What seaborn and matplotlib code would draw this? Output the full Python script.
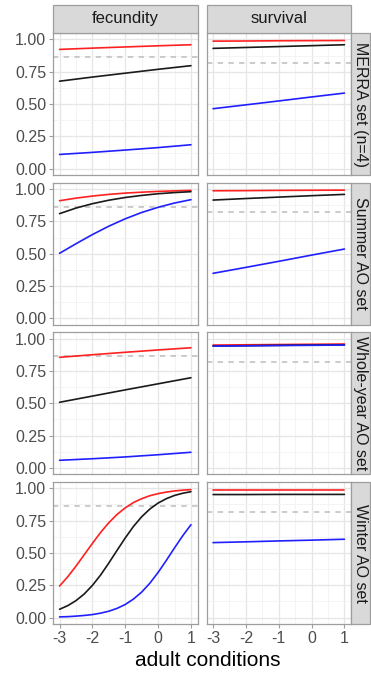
import numpy as np
import pandas as pd
import seaborn as sns
import matplotlib
matplotlib.use("Agg")
import matplotlib.pyplot as plt
from matplotlib.patches import Rectangle
from matplotlib.ticker import MultipleLocator

# ---- data -------------------------------------------------------------
row_sets = ["MERRA set (n=4)", "Summer AO set", "Whole-year AO set", "Winter AO set"]
vital_rates = ["fecundity", "survival"]
scenarios = ["good", "average", "poor"]
scenario_colors = {"good": "#FF2020", "average": "#1A1A1A", "poor": "#2020FF"}

x5 = [-3, -2, -1, 0, 1]
x9 = [-3, -2.5, -2, -1.5, -1, -0.5, 0, 0.5, 1]
x17 = [-3, -2.75, -2.5, -2.25, -2, -1.75, -1.5, -1.25, -1,
       -0.75, -0.5, -0.25, 0, 0.25, 0.5, 0.75, 1]

# MERRA set
merra_fec_good = [0.923, 0.933, 0.942, 0.951, 0.959]
merra_fec_avg = [0.677, 0.709, 0.739, 0.769, 0.797]
merra_fec_poor = [0.110, 0.126, 0.144, 0.163, 0.185]
merra_surv_good = [0.987, 0.988, 0.990, 0.991, 0.992]
merra_surv_avg = [0.931, 0.938, 0.945, 0.952, 0.959]
merra_surv_poor = [0.464, 0.494, 0.524, 0.555, 0.585]

# Summer AO set
summer_fec_good = [0.910, 0.930, 0.946, 0.959, 0.969, 0.976, 0.982, 0.986, 0.990]
summer_fec_avg = [0.810, 0.853, 0.887, 0.914, 0.935, 0.951, 0.964, 0.973, 0.980]
summer_fec_poor = [0.503, 0.577, 0.648, 0.713, 0.770, 0.819, 0.859, 0.892, 0.918]
summer_surv_good = [0.987, 0.988, 0.990, 0.991, 0.992]
summer_surv_avg = [0.915, 0.927, 0.938, 0.949, 0.959]
summer_surv_poor = [0.348, 0.394, 0.441, 0.489, 0.536]

# Whole-year AO set
whole_fec_good = [0.856, 0.876, 0.895, 0.913, 0.930]
whole_fec_avg = [0.508, 0.556, 0.604, 0.651, 0.698]
whole_fec_poor = [0.059, 0.071, 0.085, 0.102, 0.121]
whole_surv_good = [0.951, 0.953, 0.955, 0.957, 0.959]
whole_surv_avg = [0.944, 0.946, 0.949, 0.951, 0.953]
whole_surv_poor = [0.943, 0.945, 0.947, 0.949, 0.951]

# Winter AO set
winter_fec_good = [0.244, 0.316, 0.398, 0.486, 0.574, 0.659, 0.734, 0.798, 0.849,
                   0.890, 0.920, 0.943, 0.959, 0.971, 0.980, 0.986, 0.990]
winter_fec_avg = [0.064, 0.092, 0.131, 0.182, 0.249, 0.329, 0.422, 0.520, 0.616,
                  0.705, 0.780, 0.840, 0.886, 0.920, 0.945, 0.962, 0.974]
winter_fec_poor = [0.005, 0.007, 0.011, 0.016, 0.023, 0.034, 0.049, 0.071, 0.101,
                   0.143, 0.197, 0.266, 0.349, 0.442, 0.539, 0.633, 0.718]
winter_surv_good = [0.990, 0.990, 0.990, 0.990, 0.990]
winter_surv_avg = [0.952, 0.952, 0.953, 0.953, 0.953]
winter_surv_poor = [0.580, 0.586, 0.593, 0.599, 0.606]

# reference thresholds (dashed lines)
threshold = {"fecundity": 0.865, "survival": 0.82}

x_ticks = [-3, -2, -1, 0, 1]
y_ticks = [0.0, 0.25, 0.5, 0.75, 1.0]
y_tick_labels = ["0.00", "0.25", "0.50", "0.75", "1.00"]

series = [
    (row_sets[0], "fecundity", x5, [merra_fec_good, merra_fec_avg, merra_fec_poor]),
    (row_sets[0], "survival", x5, [merra_surv_good, merra_surv_avg, merra_surv_poor]),
    (row_sets[1], "fecundity", x9, [summer_fec_good, summer_fec_avg, summer_fec_poor]),
    (row_sets[1], "survival", x5, [summer_surv_good, summer_surv_avg, summer_surv_poor]),
    (row_sets[2], "fecundity", x5, [whole_fec_good, whole_fec_avg, whole_fec_poor]),
    (row_sets[2], "survival", x5, [whole_surv_good, whole_surv_avg, whole_surv_poor]),
    (row_sets[3], "fecundity", x17, [winter_fec_good, winter_fec_avg, winter_fec_poor]),
    (row_sets[3], "survival", x5, [winter_surv_good, winter_surv_avg, winter_surv_poor]),
]

records = []
for rset, vital, xs, ys_list in series:
    for scen, ys in zip(scenarios, ys_list):
        for xv, yv in zip(xs, ys):
            records.append({"set": rset, "vital": vital, "scenario": scen,
                            "conditions": xv, "value": yv})
df = pd.DataFrame(records)

# ---- style ------------------------------------------------------------
sns.set_theme(style="white")
plt.rcParams["font.family"] = ["Liberation Sans", "DejaVu Sans"]
plt.rcParams["axes.unicode_minus"] = False

border = "#9E9E9E"
tick_col = "#4D4D4D"

g = sns.FacetGrid(df, row="set", col="vital", row_order=row_sets,
                  col_order=vital_rates, sharex=True, sharey=True,
                  height=1.5, aspect=1.0, despine=False)


def draw_panel(data, **kws):
    ax = plt.gca()
    vital = data["vital"].iloc[0]
    ax.axhline(threshold[vital], color="#BDBDBD", lw=1.1, ls=(0, (3.5, 3.5)),
               zorder=1)
    sns.lineplot(data=data, x="conditions", y="value", hue="scenario",
                 hue_order=scenarios, palette=scenario_colors, estimator=None,
                 sort=False, legend=False, lw=1.2, ax=ax, zorder=3)


g.map_dataframe(draw_panel)
g.set_titles("")
g.set_axis_labels("", "")

fig = g.figure
fig.set_size_inches(3.71, 6.75)
fig.subplots_adjust(left=53 / 371, right=351 / 371, top=1 - 33 / 675,
                    bottom=1 - 624 / 675, wspace=9 / 144.5, hspace=7.5 / 142)

for i, rset in enumerate(row_sets):
    for j, vital in enumerate(vital_rates):
        ax = g.axes[i, j]
        ax.set_xlim(-3.2, 1.2)
        ax.set_ylim(-0.05, 1.05)
        ax.set_xticks(x_ticks)
        ax.set_yticks(y_ticks)
        ax.xaxis.set_minor_locator(MultipleLocator(0.5))
        ax.yaxis.set_minor_locator(MultipleLocator(0.125))
        ax.grid(True, which="major", color="#E6E6E6", lw=0.9, zorder=0)
        ax.grid(True, which="minor", color="#F3F3F3", lw=0.6, zorder=0)
        ax.set_axisbelow(True)
        for sp in ax.spines.values():
            sp.set_color(border)
            sp.set_linewidth(0.9)
        ax.tick_params(which="major", length=3, width=0.8, color=border,
                       labelsize=11.5, labelcolor=tick_col, pad=2,
                       bottom=(i == 3), left=(j == 0))
        ax.tick_params(which="minor", length=0)
        if j == 0:
            ax.set_yticklabels(y_tick_labels)
        else:
            ax.tick_params(labelleft=False)
        if i == 3:
            ax.set_xticklabels([str(v) for v in x_ticks])
        else:
            ax.tick_params(labelbottom=False)

        # column strip
        if i == 0:
            h = 28 / 142
            ax.add_patch(Rectangle((0, 1), 1, h, transform=ax.transAxes,
                                   facecolor="#D9D9D9", edgecolor=border,
                                   lw=0.9, clip_on=False, zorder=5))
            ax.text(0.5, 1 + h / 2, vital, transform=ax.transAxes,
                    ha="center", va="center", fontsize=12, color="#1A1A1A",
                    zorder=6, clip_on=False)
        # row strip
        if j == 1:
            w = 19 / 144
            ax.add_patch(Rectangle((1, 0), w, 1, transform=ax.transAxes,
                                   facecolor="#D9D9D9", edgecolor=border,
                                   lw=0.9, clip_on=False, zorder=5))
            ax.text(1 + w / 2, 0.5, rset, transform=ax.transAxes,
                    ha="center", va="center", rotation=-90, fontsize=11.5,
                    color="#1A1A1A", zorder=6, clip_on=False)

fig.text(208 / 371, 1 - 660 / 675, "adult conditions", ha="center",
         va="center", fontsize=15, color="#000000")

fig.savefig("out.png", dpi=100, facecolor="white")
